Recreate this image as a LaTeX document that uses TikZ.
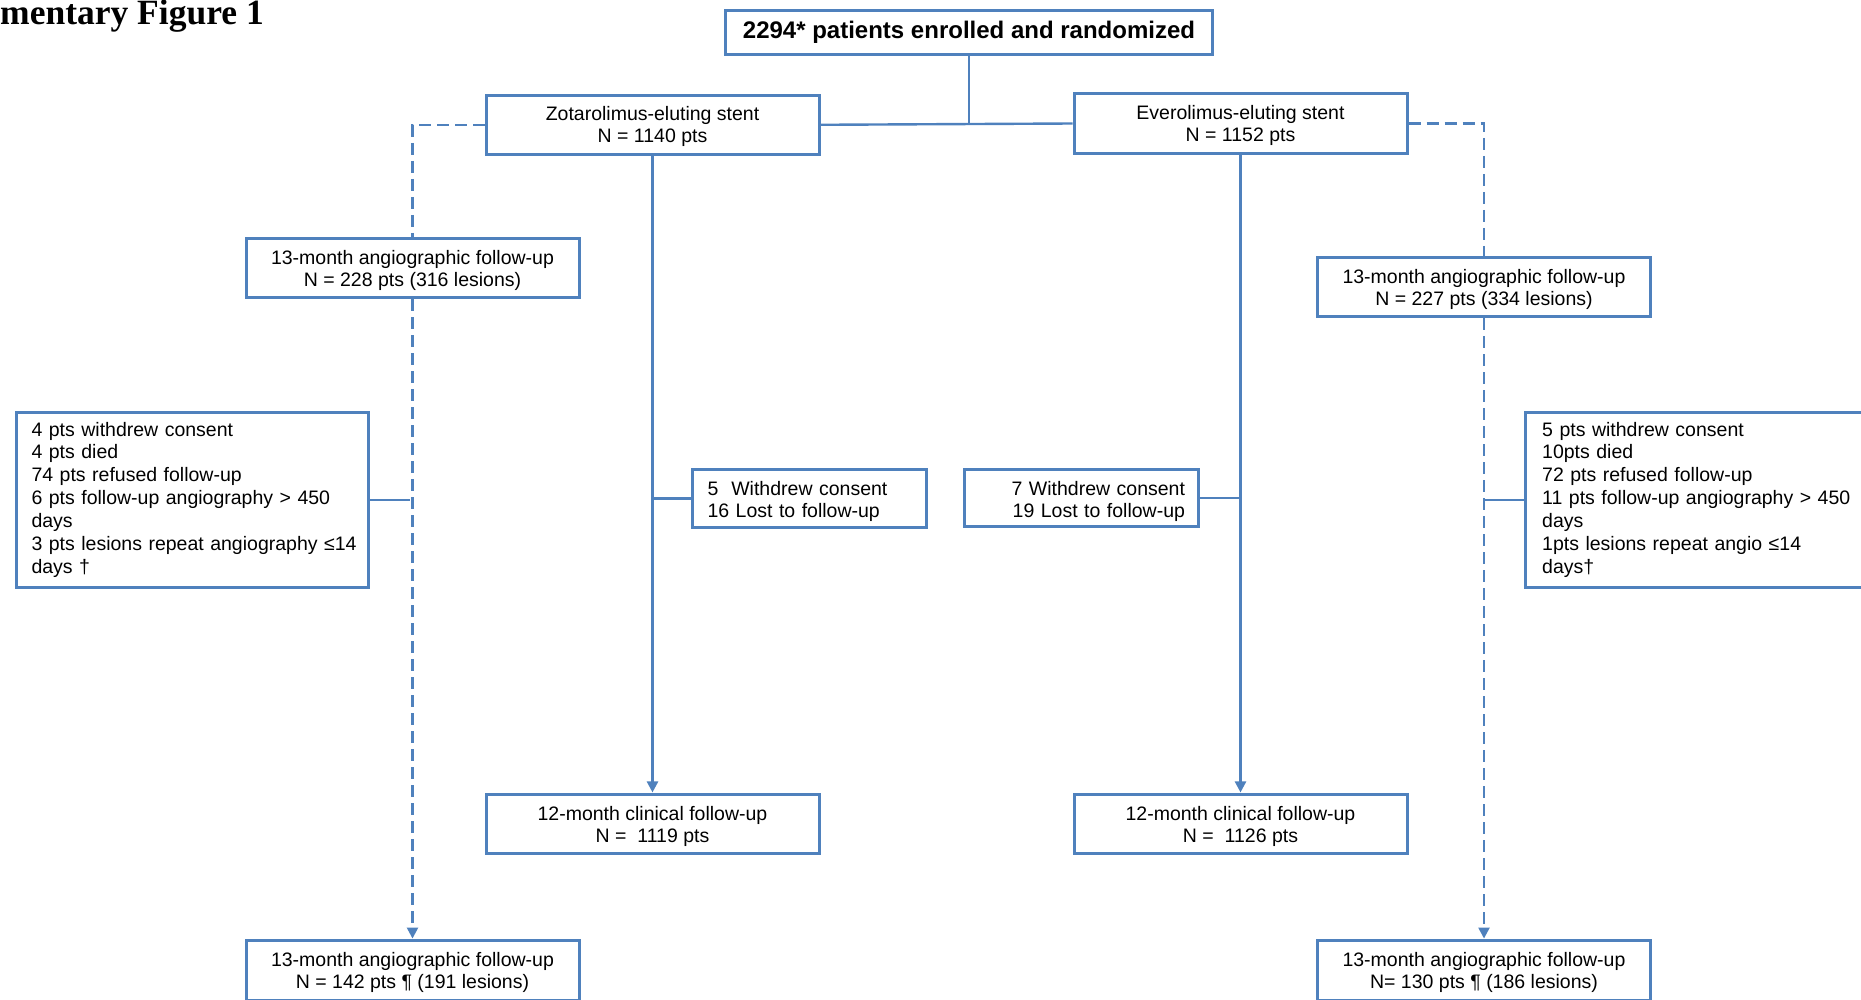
\documentclass[tikz,border=0pt]{standalone}
\usepackage{fontspec}
\setmainfont{Liberation Sans}
\newfontfamily\titlefont{Liberation Serif}
\usetikzlibrary{arrows.meta}
\definecolor{boxblue}{RGB}{79,129,189}
\newcommand\bodyfs{\fontsize{19.5}{22}\selectfont}
\newcommand\exclfs{\fontsize{19.5}{22.9}\selectfont}
\tikzset{
  box/.style={draw=boxblue, line width=3pt, fill=white, inner sep=0pt, align=center, font=\bodyfs},
  twoline/.style={box, minimum width=333pt, minimum height=59.5pt, text depth=-3pt},
  exclbox/.style={draw=boxblue, line width=3pt, fill=white, align=left, font=\exclfs, inner ysep=0pt, minimum height=175pt},
  smallbox/.style={draw=boxblue, line width=3pt, fill=white, font=\bodyfs, inner ysep=0pt, minimum height=57.5pt, text depth=20pt},
  conn/.style={draw=boxblue, line width=2.4pt},
  dconn/.style={conn, dash pattern=on 12pt off 6pt},
  arr/.style={-{Triangle[length=11pt,width=11pt]}, shorten >=0.5pt}
}
\begin{document}
\begin{tikzpicture}[x=1pt,y=-1pt]
\useasboundingbox (0,0) rectangle (1861,1000);
\clip (0,0) rectangle (1861,1000);

% title (cropped in the original)
\node[anchor=base west, inner sep=0pt, font=\titlefont\fontsize{35.5}{40}\selectfont\bfseries] (title) at (0,25) {mentary Figure 1};

% top
\node[box, minimum width=487pt, minimum height=44pt, font=\fontsize{24}{28}\selectfont\bfseries] (main) at (969,32.6) {2294* patients enrolled and randomized};

\node[twoline] (zot) at (652.5,124.8) {Zotarolimus-eluting stent\\N = 1140 pts};
\node[twoline] (eve) at (1240.5,123.5) {Everolimus-eluting stent\\N = 1152 pts};

% angiographic first boxes
\node[twoline] (angL1) at (412.5,268) {13-month angiographic follow-up\\N = 228 pts (316 lesions)};
\node[twoline] (angR1) at (1484,287.2) {13-month angiographic follow-up\\N = 227 pts (334 lesions)};

% exclusion boxes
\node[exclbox, anchor=north west, text width=322pt, inner xsep=15.4pt] (exclL) at (14.6,410.7)
  {4 pts withdrew consent\\4 pts died\\74 pts refused follow-up\\\mbox{6 pts follow-up angiography > 450}\\days\\\mbox{3 pts lesions repeat angiography ≤14}\\days †};
\node[exclbox, anchor=north west, text width=360pt, inner xsep=16.6pt] (exclR) at (1524.1,410.7)
  {5 pts withdrew consent\\10pts died\\72 pts refused follow-up\\\mbox{11 pts follow-up angiography > 450}\\days\\1pts lesions repeat angio ≤14\\days†};

\node[smallbox, anchor=west, align=left, text width=203.6pt, inner xsep=15.2pt] (wdL) at (690.8,498.3)
  {5\ \ Withdrew consent\\16 Lost to follow-up};
\node[smallbox, anchor=east, align=right, text width=206.9pt, inner xsep=13.5pt] (wdR) at (1200,498.2)
  {7 Withdrew consent\\19 Lost to follow-up};

% clinical follow-up
\node[twoline] (clinL) at (652.5,824.2) {12-month clinical follow-up\\N = \ 1119 pts};
\node[twoline] (clinR) at (1240.5,824.2) {12-month clinical follow-up\\N = \ 1126 pts};

% bottom angiographic
\node[twoline] (angLB) at (412.5,970.3) {13-month angiographic follow-up\\N = 142 pts ¶ (191 lesions)};
\node[twoline] (angRB) at (1484,970.3) {13-month angiographic follow-up\\N= 130 pts ¶ (186 lesions)};

% connectors
\coordinate (j) at (main.south |- zot.east);
\draw[conn] (main.south) -- (j);
\draw[conn] (zot.east) -- (eve.west);

\draw[dconn] (zot.west) -| (angL1.north);
\draw[dconn, arr] (angL1.south) -- (angLB.north);
\draw[dconn] (eve.east) -| (angR1.north);
\draw[dconn, arr] (angR1.south) -- (angRB.north);

\draw[conn, arr] (zot.south) -- (clinL.north);
\draw[conn, arr] (eve.south) -- (clinR.north);

\coordinate (cL) at ([xshift=-3pt]angL1.south |- exclL.east);
\draw[conn] (exclL.east) -- (cL);
\coordinate (cR) at ([xshift=1pt]angR1.south |- exclR.west);
\draw[conn] (cR) -- (exclR.west);
\coordinate (cWL) at (zot.south |- wdL.west);
\draw[conn] (cWL) -- (wdL.west);
\coordinate (cWR) at (eve.south |- wdR.east);
\draw[conn] (wdR.east) -- (cWR);
\end{tikzpicture}
\end{document}
